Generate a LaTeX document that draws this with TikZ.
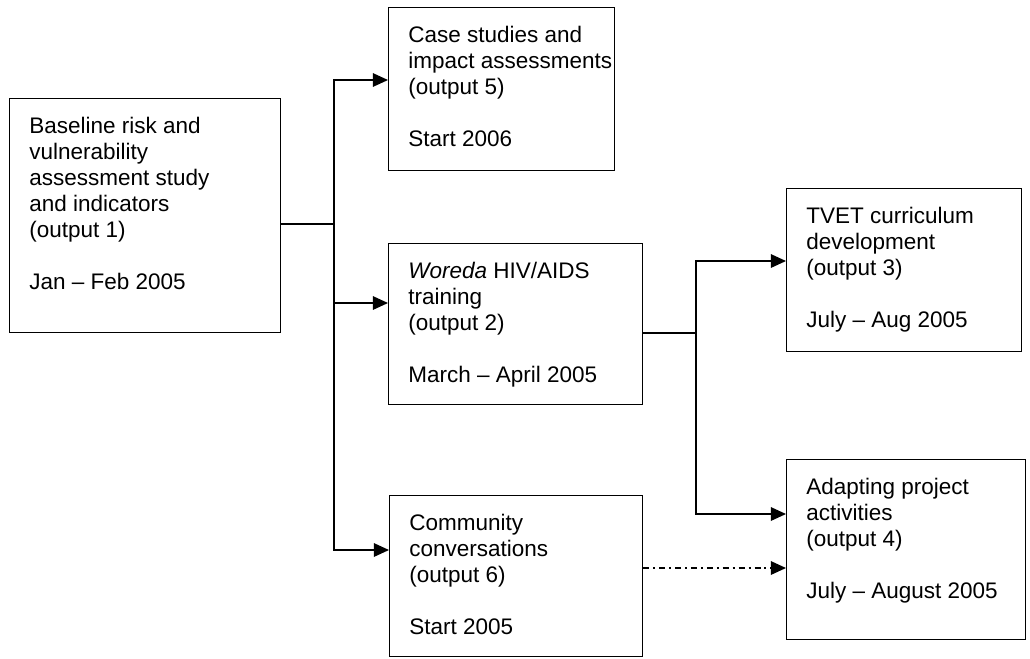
\documentclass[tikz,border=0pt]{standalone}
\usepackage{fontspec}
\setmainfont{Liberation Sans}
\usetikzlibrary{arrows.meta}
\def\px{0.025cm}

\begin{document}
\begin{tikzpicture}[x=0.025cm,y=-0.025cm,
  outbox/.style={draw,line width=0.9pt,anchor=north west,inner sep=0pt},
  outtext/.style={anchor=north west,inner sep=0pt,align=left,font=\fontsize{16}{18.5}\selectfont},
  link/.style={line width=1pt,line cap=rect},
  linkto/.style={line width=1pt,-{Triangle[length=3.8mm,width=3.4mm]}}]
\path[use as bounding box] (0,0) rectangle (1030,658);

% output boxes
\node[outbox,minimum width=271*\px,minimum height=234*\px] (b1) at (9,98) {};
\node[outbox,minimum width=226*\px,minimum height=163*\px] (b5) at (388,7) {};
\node[outbox,minimum width=254*\px,minimum height=161*\px] (b2) at (388,243) {};
\node[outbox,minimum width=253*\px,minimum height=161*\px] (b6) at (389,495) {};
\node[outbox,minimum width=235*\px,minimum height=163*\px] (b3) at (786,188) {};
\node[outbox,minimum width=239*\px,minimum height=180*\px] (b4) at (786,459) {};

% box texts
\node[outtext] (b1txt) at ([shift={(20,19)}]b1.north west) {Baseline risk and\\vulnerability\\assessment study\\and indicators\\(output 1)\\[18.5pt]Jan – Feb 2005};
\node[outtext] (b5txt) at ([shift={(20,19)}]b5.north west) {Case studies and\\impact assessments\\(output 5)\\[18.5pt]Start 2006};
\node[outtext] (b2txt) at ([shift={(20,19)}]b2.north west) {\textit{Woreda} HIV/AIDS\\training\\(output 2)\\[18.5pt]March – April 2005};
\node[outtext] (b6txt) at ([shift={(20,19)}]b6.north west) {Community\\conversations\\(output 6)\\[18.5pt]Start 2005};
\node[outtext] (b3txt) at ([shift={(20,19)}]b3.north west) {TVET curriculum\\development\\(output 3)\\[18.5pt]July – Aug 2005};
\node[outtext] (b4txt) at ([shift={(20,19)}]b4.north west) {Adapting project\\activities\\(output 4)\\[18.5pt]July – August 2005};

% first branch
\coordinate (j1) at (334,224);
\coordinate (t5) at (334,80);
\coordinate (t2) at (334,303);
\coordinate (t6) at (334,550);
\draw[link] (j1 -| b1.east) -- (j1);
\draw[link] (t5) -- (t6);
\draw[linkto] (t5) -- (t5 -| b5.west);
\draw[linkto] (t2) -- (t2 -| b2.west);
\draw[linkto] (t6) -- (t6 -| b6.west);

% second branch
\coordinate (j2) at (696,333);
\coordinate (t3) at (696,261);
\coordinate (t4) at (696,514);
\draw[link] (j2 -| b2.east) -- (j2);
\draw[link] (t3) -- (t4);
\draw[linkto] (t3) -- (t3 -| b3.west);
\draw[linkto] (t4) -- (t4 -| b4.west);

% community conversations feed in
\coordinate (d6) at (700,568);
\draw[linkto,dash pattern=on 4.3pt off 2.8pt on 1.4pt off 2.8pt] (d6 -| b6.east) -- (d6 -| b4.west);
\end{tikzpicture}
\end{document}
